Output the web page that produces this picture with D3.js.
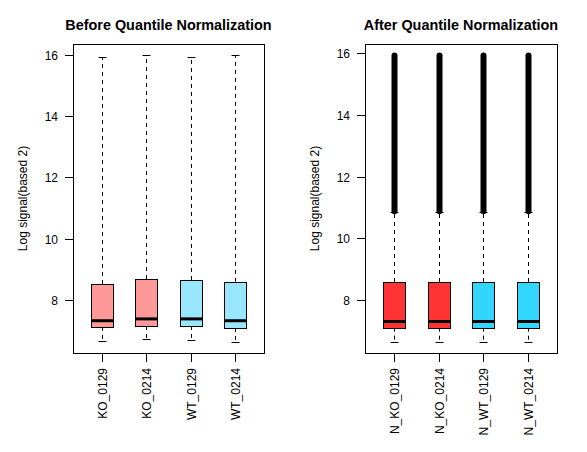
<!DOCTYPE html>
<html><head><meta charset="utf-8">
<script src="https://cdn.jsdelivr.net/npm/d3@7"></script>
<style>body{margin:0;background:#fff}svg{display:block}text{font-family:"Liberation Sans",Arial,sans-serif;fill:#000}</style>
</head><body><svg id="c" width="587" height="452"></svg>
<script>
// ---- data ----
const beforeNames = ["KO_0129","KO_0214","WT_0129","WT_0214"];
const beforeLow   = [6.67, 6.73, 6.70, 6.64];
const beforeQ1    = [7.12, 7.15, 7.15, 7.08];
const beforeMed   = [7.32, 7.38, 7.38, 7.32];
const beforeQ3    = [8.52, 8.68, 8.65, 8.59];
const beforeHigh  = [15.92, 15.98, 15.92, 15.98];
const beforeColors = ["#FF9999","#FF9999","#99E6FF","#99E6FF"];

const afterNames = ["N_KO_0129","N_KO_0214","N_WT_0129","N_WT_0214"];
const afterLow   = [6.65, 6.65, 6.65, 6.65];
const afterQ1    = [7.10, 7.10, 7.10, 7.10];
const afterMed   = [7.30, 7.30, 7.30, 7.30];
const afterQ3    = [8.58, 8.58, 8.58, 8.58];
const afterHigh  = [10.84, 10.84, 10.84, 10.84];
const afterOutLo = [10.88, 10.88, 10.88, 10.88];
const afterOutHi = [15.93, 15.93, 15.93, 15.93];
const afterColors = ["#FF3333","#FF3333","#33D6FF","#33D6FF"];

const yTicks = [8, 10, 12, 14, 16];
const titles = ["Before Quantile Normalization", "After Quantile Normalization"];
const yTitle = "Log signal(based 2)";

const svg = d3.select("#c");

function panel(opts) {
  const {left, right, top, bottom, names, low, q1, med, q3, high, outLo, outHi, colors, title} = opts;
  const n = names.length;
  const allMin = d3.min(low), allMax = d3.max(outHi || high);
  const ext = 0.04 * (allMax - allMin);
  const y = d3.scaleLinear().domain([allMin - ext, allMax + ext]).range([bottom, top]);
  const x = d3.scaleLinear().domain([0.5 - 0.04 * n, n + 0.5 + 0.04 * n]).range([left, right]);
  const g = svg.append("g");
  const boxW = x(1.25) - x(1), capW = x(1.09) - x(1);

  // whiskers
  names.forEach((nm, i) => {
    const cx = Math.round(x(i + 1)) + 0.5;
    g.append("line").attr("x1", cx).attr("x2", cx).attr("y1", y(q3[i])).attr("y2", y(high[i]))
      .attr("stroke", "#000").attr("stroke-dasharray", "4,4");
    g.append("line").attr("x1", cx).attr("x2", cx).attr("y1", y(q1[i])).attr("y2", y(low[i]))
      .attr("stroke", "#000").attr("stroke-dasharray", "4,4");
    [high[i], low[i]].forEach(v => {
      const yy = Math.round(y(v)) + 0.5;
      g.append("line").attr("x1", cx - capW).attr("x2", cx + capW).attr("y1", yy).attr("y2", yy).attr("stroke", "#000");
    });
    if (outLo) {
      g.append("line").attr("x1", cx).attr("x2", cx).attr("y1", y(outLo[i])).attr("y2", y(outHi[i]))
        .attr("stroke", "#000").attr("stroke-width", 6).attr("stroke-linecap", "round");
    }
    const bx = Math.round(cx - boxW) + 0.5, bw = Math.round(2 * boxW);
    const yt = Math.round(y(q3[i])) + 0.5, yb = Math.round(y(q1[i])) + 0.5;
    g.append("rect").attr("x", bx).attr("y", yt).attr("width", bw).attr("height", yb - yt)
      .attr("fill", colors[i]).attr("stroke", "#000");
    g.append("line").attr("x1", bx).attr("x2", bx + bw).attr("y1", y(med[i])).attr("y2", y(med[i]))
      .attr("stroke", "#000").attr("stroke-width", 3);
  });

  // frame
  g.append("rect").attr("x", Math.round(left) + 0.5).attr("y", top + 0.5)
    .attr("width", Math.round(right - left)).attr("height", bottom - top)
    .attr("fill", "none").attr("stroke", "#000");

  // y axis
  yTicks.forEach(t => {
    const yy = Math.round(y(t)) + 0.5;
    g.append("line").attr("x1", left - 8).attr("x2", left).attr("y1", yy).attr("y2", yy).attr("stroke", "#000");
    g.append("text").attr("x", left - 15).attr("y", yy).attr("dy", "0.36em")
      .attr("text-anchor", "end").attr("font-size", 12).text(t);
  });
  // x axis
  names.forEach((nm, i) => {
    const cx = Math.round(x(i + 1)) + 0.5;
    g.append("line").attr("x1", cx).attr("x2", cx).attr("y1", bottom).attr("y2", bottom + 9).attr("stroke", "#000");
    g.append("text").attr("transform", `translate(${cx},${bottom + 15}) rotate(-90)`)
      .attr("dy", "0.38em").attr("text-anchor", "end").attr("font-size", 12).text(nm);
  });
  g.append("text").attr("transform", `translate(${left - 46},${(top + bottom) / 2}) rotate(-90)`)
    .attr("text-anchor", "middle").attr("font-size", 12).text(yTitle);
  g.append("text").attr("x", (left + right) / 2).attr("y", 29.5).attr("text-anchor", "middle")
    .attr("font-size", 14.4).attr("font-weight", "bold").text(title);
}

panel({left: 73, right: 264, top: 44, bottom: 353, names: beforeNames, low: beforeLow, q1: beforeQ1,
  med: beforeMed, q3: beforeQ3, high: beforeHigh, colors: beforeColors, title: titles[0]});
panel({left: 365, right: 557, top: 44, bottom: 353, names: afterNames, low: afterLow, q1: afterQ1,
  med: afterMed, q3: afterQ3, high: afterHigh, outLo: afterOutLo, outHi: afterOutHi, colors: afterColors, title: titles[1]});
</script></body></html>
